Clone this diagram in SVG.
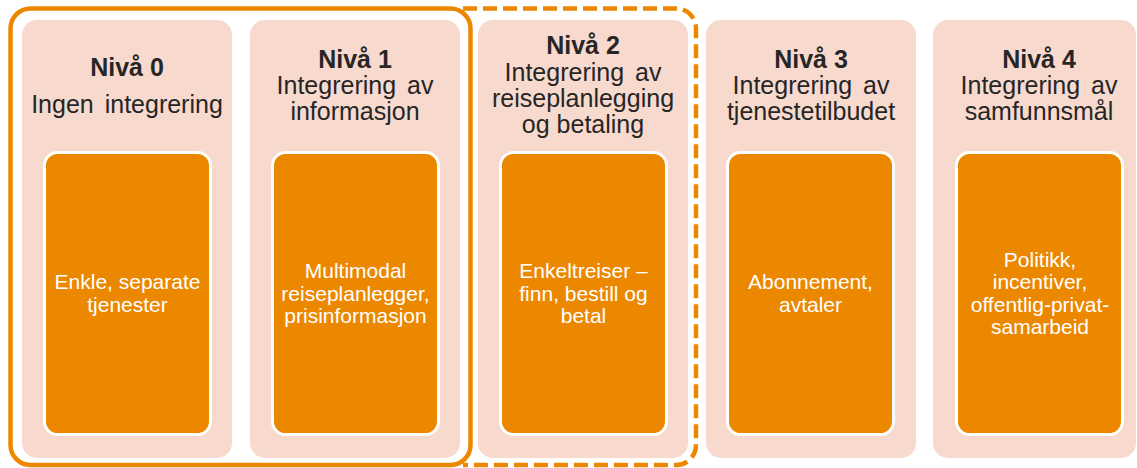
<svg xmlns="http://www.w3.org/2000/svg" width="1137" height="468" viewBox="0 0 1137 468">
  <style>
    .panel { fill: #F8D9CD; }
    .box { fill: #EC8800; stroke: #FFFFFF; stroke-width: 3; }
    .hd { font-family: "Liberation Sans", Arial, sans-serif; font-size: 25px; font-weight: bold; fill: #262626; text-anchor: middle; }
    .sub { font-family: "Liberation Sans", Arial, sans-serif; font-size: 25px; fill: #262626; text-anchor: middle; }
    .in { font-family: "Liberation Sans", Arial, sans-serif; font-size: 21px; fill: #FFFFFF; text-anchor: middle; }
    .frame { fill: none; stroke: #EC8800; stroke-width: 4.5; }
  </style>
  <rect width="1137" height="468" fill="#FFFFFF"/>

  <g id="level0">
    <rect class="panel" x="22" y="20" width="210" height="438" rx="15"/>
    <text class="hd" x="127" y="76">Nivå 0</text>
    <text class="sub" x="127" y="113" word-spacing="4">Ingen integrering</text>
    <rect class="box" x="44.5" y="152.5" width="166" height="282" rx="13"/>
    <text class="in"><tspan x="127.5" y="289.3">Enkle, separate</tspan><tspan x="127.5" y="311.8">tjenester</tspan></text>
  </g>

  <g id="level1">
    <rect class="panel" x="250" y="20" width="210" height="438" rx="15"/>
    <text class="hd" x="355" y="68">Nivå 1</text>
    <text class="sub" x="355" y="93.5" word-spacing="4">Integrering av</text>
    <text class="sub" x="355" y="119.5">informasjon</text>
    <rect class="box" x="272.5" y="152.5" width="166" height="282" rx="13"/>
    <text class="in"><tspan x="355.5" y="278">Multimodal</tspan><tspan x="355.5" y="300.5">reiseplanlegger,</tspan><tspan x="355.5" y="323">prisinformasjon</tspan></text>
  </g>

  <g id="level2">
    <rect class="panel" x="478" y="20" width="210" height="438" rx="15"/>
    <text class="hd" x="583" y="54">Nivå 2</text>
    <text class="sub" x="583" y="80.5" word-spacing="4">Integrering av</text>
    <text class="sub" x="583" y="106.5">reiseplanlegging</text>
    <text class="sub" x="583" y="132.5">og betaling</text>
    <rect class="box" x="500.5" y="152.5" width="166" height="282" rx="13"/>
    <text class="in"><tspan x="583.5" y="278">Enkeltreiser –</tspan><tspan x="583.5" y="300.5">finn, bestill og</tspan><tspan x="583.5" y="323">betal</tspan></text>
  </g>

  <g id="level3">
    <rect class="panel" x="706" y="20" width="210" height="438" rx="15"/>
    <text class="hd" x="811" y="68">Nivå 3</text>
    <text class="sub" x="811" y="93.5" word-spacing="4">Integrering av</text>
    <text class="sub" x="811" y="119.5">tjenestetilbudet</text>
    <rect class="box" x="727.5" y="152.5" width="166" height="282" rx="13"/>
    <text class="in"><tspan x="810.5" y="289.3">Abonnement,</tspan><tspan x="810.5" y="311.8">avtaler</tspan></text>
  </g>

  <g id="level4">
    <rect class="panel" x="933" y="20" width="203" height="438" rx="15"/>
    <text class="hd" x="1039" y="68">Nivå 4</text>
    <text class="sub" x="1039" y="93.5" word-spacing="4">Integrering av</text>
    <text class="sub" x="1039" y="119.5">samfunnsmål</text>
    <rect class="box" x="956.5" y="152.5" width="166" height="282" rx="13"/>
    <text class="in"><tspan x="1040" y="266.8">Politikk,</tspan><tspan x="1040" y="289.3">incentiver,</tspan><tspan x="1040" y="311.8">offentlig-privat-</tspan><tspan x="1040" y="334.3">samarbeid</tspan></text>
  </g>

  <g id="connectors">
    <path class="frame" stroke-dasharray="14 6" d="M 463 8.5 L 676 8.5 A 20 20 0 0 1 696 28.5 L 696 445 A 20 20 0 0 1 676 465 L 463 465"/>
    <rect class="frame" x="10.5" y="8.5" width="460" height="456.5" rx="20"/>
  </g>
</svg>
